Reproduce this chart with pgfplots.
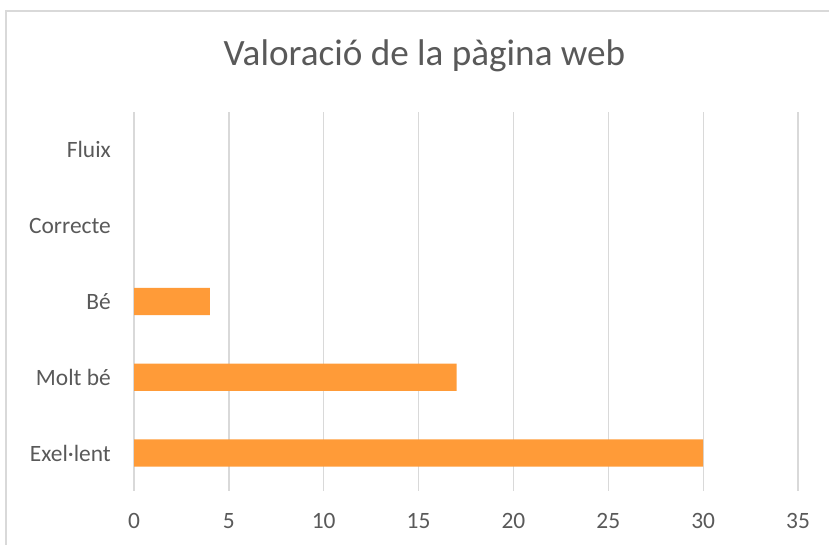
\documentclass[border=0pt]{standalone}
\usepackage{pgfplots}
\pgfplotsset{compat=1.18}
\usepackage{fontspec}
\setmainfont{Carlito}
\definecolor{txt}{HTML}{595959}
\definecolor{gridc}{HTML}{D9D9D9}
\definecolor{barc}{HTML}{FF9B38}
\begin{document}
\begin{tikzpicture}[x=1bp,y=1bp]
\useasboundingbox (0,0) rectangle (829,545);
\draw[gridc,line width=1.2bp] (6,-2) -- (6,534) -- (831,534);
\node[text=txt,font=\fontsize{37.3}{44}\selectfont] at (424.5,489) {Valoració de la pàgina web};
\begin{axis}[
  at={(134bp,54bp)}, anchor=south west,
  scale only axis, width=664bp, height=379bp,
  xbar, bar width=0.36,
  xmin=0, xmax=35, ymin=-0.5, ymax=4.5,
  xtick={0,5,...,35},
  ytick={0,1,2,3,4},
  yticklabels={Exel·lent,Molt bé\ ,Bé\ ,Correcte,Fluix},
  axis line style={draw=none},
  major tick length=0pt,
  xmajorgrids=true, ymajorgrids=false,
  major grid style={draw=gridc,line width=1.3bp},
  /pgf/number format/assume math mode=true,
  tick label style={text=txt,font=\fontsize{23.5}{28}\selectfont},
  yticklabel style={anchor=east,inner sep=0pt,xshift=-23bp},
  xticklabel style={anchor=north,inner sep=0pt,yshift=-22bp},
]
\addplot[fill=barc,draw=none,x filter/.expression={x==0 ? nan : x}]
  coordinates {(30,0) (17,1) (4,2) (0,3) (0,4)};
\end{axis}
\end{tikzpicture}
\end{document}
